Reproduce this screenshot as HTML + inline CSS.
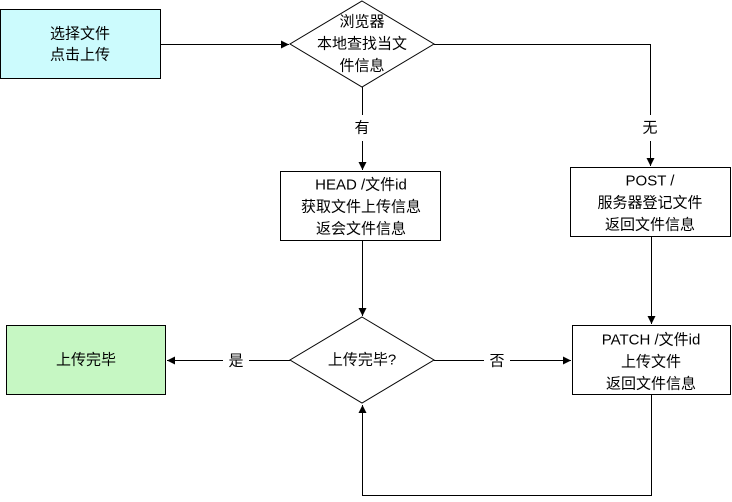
<!DOCTYPE html>
<html><head><meta charset="utf-8"><style>
body{margin:0;background:#fff;}
svg text{font-family:"Liberation Sans","Noto Sans CJK SC",sans-serif;font-size:15px;fill:#000;text-anchor:middle;dominant-baseline:central;}
</style></head><body>
<svg width="732" height="497" viewBox="0 0 732 497" xmlns="http://www.w3.org/2000/svg">
<defs><marker id="a" markerWidth="10" markerHeight="10" refX="9" refY="5" orient="auto" markerUnits="userSpaceOnUse"><path d="M1,1 L9,5 L1,9 Z" fill="#000"/></marker></defs>
<g stroke="#000" stroke-width="1" fill="none">
<rect x="0.5" y="9.5" width="160" height="69" fill="#ccfbfd"/>
<polygon points="362,1 434,44 362,87 290,44" fill="#fff"/>
<rect x="280.5" y="171.5" width="160" height="69" fill="#fff"/>
<rect x="570.5" y="167.5" width="160" height="69" fill="#fff"/>
<polygon points="362,317 434,360 362,403 290,360" fill="#fff"/>
<rect x="6.5" y="325.5" width="159" height="69" fill="#c6f7c3"/>
<rect x="572.5" y="325.5" width="158" height="69" fill="#fff"/>
<line x1="161" y1="44.5" x2="289" y2="44.5" marker-end="url(#a)"/>
<line x1="362.5" y1="87" x2="362.5" y2="115"/>
<line x1="362.5" y1="141" x2="362.5" y2="170" marker-end="url(#a)"/>
<polyline points="434,44.5 650.5,44.5 650.5,115"/>
<line x1="650.5" y1="141" x2="650.5" y2="166" marker-end="url(#a)"/>
<line x1="362.5" y1="241" x2="362.5" y2="316" marker-end="url(#a)"/>
<line x1="651.5" y1="237" x2="651.5" y2="324" marker-end="url(#a)"/>
<line x1="290" y1="360.5" x2="249" y2="360.5"/>
<line x1="223" y1="360.5" x2="167" y2="360.5" marker-end="url(#a)"/>
<line x1="434" y1="360.5" x2="484" y2="360.5"/>
<line x1="510" y1="360.5" x2="571" y2="360.5" marker-end="url(#a)"/>
<polyline points="651.5,395 651.5,495.5 362.5,495.5 362.5,405" marker-end="url(#a)"/>
</g>
<text x="80" y="34">选择文件</text><text x="80" y="55">点击上传</text>
<text x="362" y="22">浏览器</text><text x="362" y="44">本地查找当文</text><text x="362" y="66">件信息</text>
<text x="362" y="128">有</text><text x="650" y="128">无</text>
<text x="361" y="185">HEAD /文件id</text><text x="361" y="207">获取文件上传信息</text><text x="361" y="229">返会文件信息</text>
<text x="650" y="181">POST /</text><text x="650" y="203">服务器登记文件</text><text x="650" y="225">返回文件信息</text>
<text x="362" y="360">上传完毕?</text>
<text x="86" y="360">上传完毕</text>
<text x="236" y="361">是</text><text x="497" y="361">否</text>
<text x="651" y="340">PATCH /文件id</text><text x="651" y="362">上传文件</text><text x="651" y="384">返回文件信息</text>
</svg>
</body></html>
